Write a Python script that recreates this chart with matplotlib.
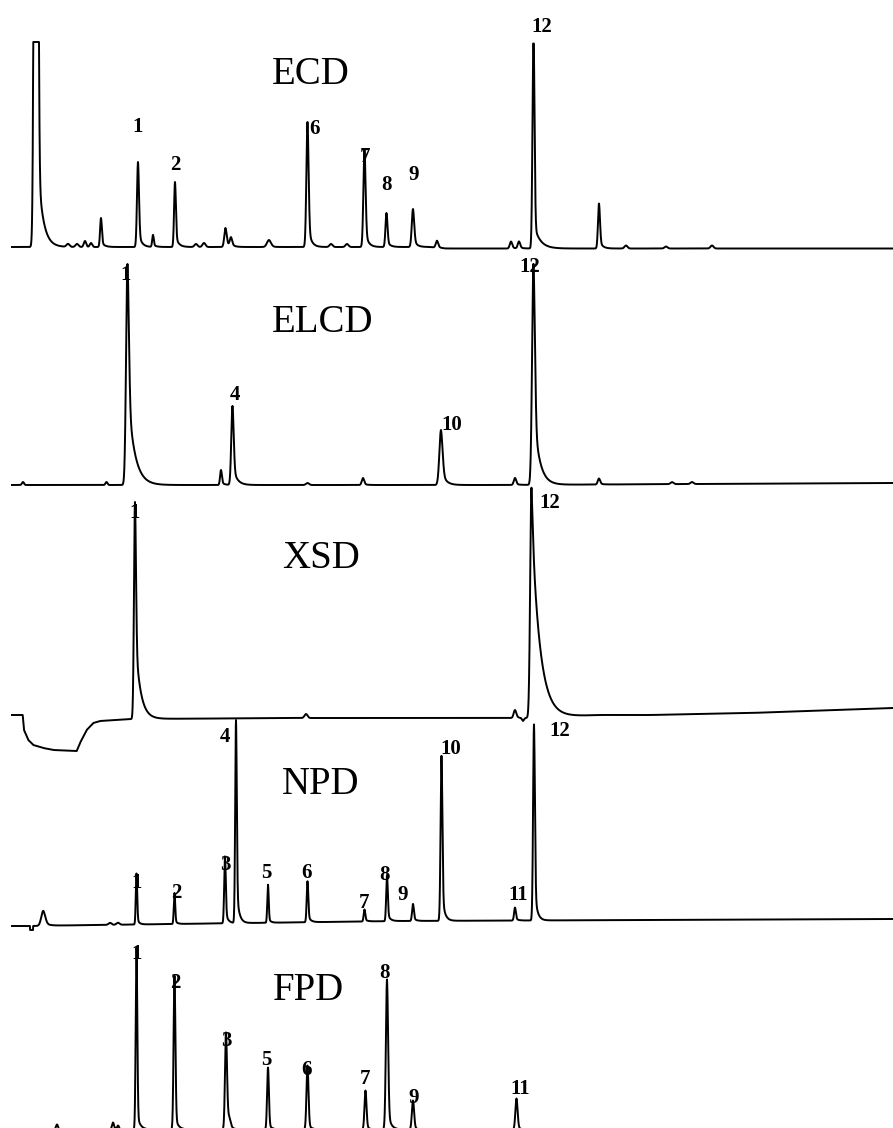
import numpy as np
import matplotlib
matplotlib.use("Agg")
import matplotlib.pyplot as plt

# ---------------------------------------------------------------
# Data: peak tables per detector (retention position, peak height,
# peak sigma, tailing fraction, tailing constant)
# ---------------------------------------------------------------
detectors = ["ECD", "ELCD", "XSD", "NPD", "FPD"]

ecd_rt     = [36, 68, 77, 85, 91, 101, 138, 153, 175, 196, 204, 225.5, 231, 269,
              307.5, 331, 347, 364.5, 386.5, 413, 437, 511, 519, 533.5, 599, 626, 666, 712]
ecd_height = [1500, 3, 3, 6, 4, 29, 85, 12, 65, 3, 4, 19, 9, 7,
              125, 3, 3, 97, 34, 38, 7, 7, 7, 215, 45, 3, 2, 3]
ecd_sigma  = [1.4, 1.5, 1.5, 1.2, 1.2, 0.9, 1.0, 0.8, 0.9, 1.5, 1.5, 1.2, 1.2, 2.0,
              1.1, 1.5, 1.5, 1.1, 1.0, 1.2, 1.2, 1.2, 1.2, 1.0, 1.0, 1.5, 1.5, 1.5]
ecd_tail   = [0.08, 0, 0, 0, 0, 0.2, 0.2, 0.2, 0.2, 0, 0, 0.3, 0.3, 0.2,
              0.2, 0, 0, 0.2, 0.2, 0.25, 0.2, 0.2, 0.2, 0.12, 0.2, 0, 0, 0]
ecd_tau    = [5.0, 2, 2, 2, 2, 3, 3, 3, 3, 2, 2, 3, 3, 3,
              3, 2, 2, 3, 3, 3, 3, 3, 3, 6, 3, 2, 2, 2]
ecd_clip   = 205
ecd_drift_rt = [12, 430, 445, 893]
ecd_drift    = [0, 0, -1.5, -1.5]
ecd_labels     = ["1", "2", "6", "7", "8", "9", "12"]
ecd_label_rt   = [138, 175, 315, 365, 386, 414, 542]
ecd_label_sig  = [122, 84, 120, 92, 64, 74, 222]

elcd_rt     = [23, 106.5, 127.5, 221, 232.5, 307.5, 363, 441, 515, 533.5, 599, 672, 692]
elcd_height = [3, 3, 221, 15, 79, 2, 7, 55, 7, 221, 6, 2, 2]
elcd_sigma  = [1.0, 1.0, 1.4, 0.9, 1.2, 1.5, 1.2, 1.6, 1.2, 1.4, 1.2, 1.5, 1.5]
elcd_tail   = [0, 0, 0.45, 0.2, 0.25, 0, 0.2, 0.3, 0.2, 0.35, 0.2, 0, 0]
elcd_tau    = [2, 2, 6.5, 3, 4, 2, 3, 4, 3, 5.5, 3, 2, 2]
elcd_clip   = 221
elcd_drift_rt = [12, 500, 893]
elcd_drift    = [0, 0, 2]
elcd_labels    = ["1", "4", "10", "12"]
elcd_label_rt  = [126, 235, 452, 530]
elcd_label_sig = [212, 92, 62, 220]

xsd_rt     = [135, 306, 515, 523, 531.5]
xsd_height = [217, 4, 8, -3, 230]
xsd_sigma  = [1.0, 1.5, 1.3, 1.0, 1.3]
xsd_tail   = [0.4, 0, 0.2, 0, 0.9]
xsd_tau    = [5, 2, 3, 2, 8]
xsd_clip   = 400
xsd_drift_rt = [11, 22.7, 24, 28.3, 33.3, 43.3, 53.3, 76.7, 80, 86.7, 93.3, 100, 133,
                300, 525, 600, 650, 750, 893]
xsd_drift    = [3, 3, -12, -22, -27, -30, -32, -33, -25, -12, -5, -3, -1,
                0, 0, 3, 3, 5, 10]
xsd_labels    = ["1", "12"]
xsd_label_rt  = [135, 550]
xsd_label_sig = [208, 217]

npd_rt     = [43.3, 110, 118, 136.5, 174.5, 225, 236, 268, 307.5, 364.5, 387, 413, 441.5, 515, 534]
npd_height = [15, 2, 2, 51, 31, 67, 203, 38, 41, 12, 46, 17, 165, 13, 196]
npd_sigma  = [2.0, 1.5, 1.5, 0.7, 0.7, 0.8, 0.8, 0.7, 0.8, 0.8, 0.8, 0.9, 0.9, 0.9, 0.9]
npd_tail   = [0.3, 0, 0, 0.15, 0.15, 0.2, 0.2, 0.15, 0.2, 0.2, 0.2, 0.2, 0.2, 0.2, 0.2]
npd_tau    = [4, 2, 2, 2, 2, 2.5, 2.5, 2, 2.5, 2.5, 2.5, 2.5, 2.5, 2.5, 2.5]
npd_clip   = 400
npd_drift_rt = [12, 29.9, 30.0, 33.0, 33.1, 60, 400, 893]
npd_drift    = [-5, -5, -9, -9, -5, -4.5, 0, 2]
npd_labels    = ["1", "2", "3", "4", "5", "6", "7", "8", "9", "10", "11", "12"]
npd_label_rt  = [136.5, 176, 225, 225, 266, 306, 364, 385, 403, 451, 518, 560]
npd_label_sig = [40, 30, 58, 186, 50, 50, 20, 49, 29, 175, 29, 193]

fpd_rt     = [57, 113, 118, 136.5, 174.5, 226, 229, 268, 307.5, 365.5, 387, 413, 516.5]
fpd_height = [5, 7, 4, 182, 154, 96, 8, 62, 64, 39, 150, 29, 31]
fpd_sigma  = [1.0, 1.0, 1.0, 0.8, 0.9, 1.0, 1.5, 0.9, 1.0, 1.0, 1.1, 1.1, 1.1]
fpd_tail   = [0, 0, 0, 0.1, 0.1, 0.15, 0, 0.1, 0.1, 0.1, 0.15, 0.1, 0.1]
fpd_tau    = [2, 2, 2, 3, 3, 3, 2, 3, 3, 3, 3, 3, 3]
fpd_clip   = 400
fpd_drift_rt = [12, 893]
fpd_drift    = [0, 0]
fpd_labels    = ["1", "2", "3", "5", "6", "7", "8", "9", "11"]
fpd_label_rt  = [136.5, 175, 226, 266, 306, 365, 385, 414, 520]
fpd_label_sig = [178, 149, 91, 72, 62, 53, 159, 34, 43]

# ---------------------------------------------------------------
# Layout (figure pixels): baseline level and detector-name position
# ---------------------------------------------------------------
W, H = 893, 1128
layout = {
    "ECD":  dict(base=247,    name_xy=(311, 75)),
    "ELCD": dict(base=485,    name_xy=(323, 322)),
    "XSD":  dict(base=718,    name_xy=(321, 559)),
    "NPD":  dict(base=921,    name_xy=(321, 784)),
    "FPD":  dict(base=1129.5, name_xy=(308, 990)),
}

tables = {
    "ECD":  (ecd_rt, ecd_height, ecd_sigma, ecd_tail, ecd_tau, ecd_clip,
             ecd_drift_rt, ecd_drift, ecd_labels, ecd_label_rt, ecd_label_sig),
    "ELCD": (elcd_rt, elcd_height, elcd_sigma, elcd_tail, elcd_tau, elcd_clip,
             elcd_drift_rt, elcd_drift, elcd_labels, elcd_label_rt, elcd_label_sig),
    "XSD":  (xsd_rt, xsd_height, xsd_sigma, xsd_tail, xsd_tau, xsd_clip,
             xsd_drift_rt, xsd_drift, xsd_labels, xsd_label_rt, xsd_label_sig),
    "NPD":  (npd_rt, npd_height, npd_sigma, npd_tail, npd_tau, npd_clip,
             npd_drift_rt, npd_drift, npd_labels, npd_label_rt, npd_label_sig),
    "FPD":  (fpd_rt, fpd_height, fpd_sigma, fpd_tail, fpd_tau, fpd_clip,
             fpd_drift_rt, fpd_drift, fpd_labels, fpd_label_rt, fpd_label_sig),
}


def peak_shape(t, rt, h, s, f, tau):
    d = t - rt
    g = np.exp(-0.5 * (d / s) ** 2)
    right = (1 - f) * g + f * np.exp(-np.clip(d, 0, None) / tau)
    return h * np.where(d < 0, g, right)


def trace(t, rt, hh, ss, ff, tt, clip):
    y = np.zeros_like(t)
    for r, h, s, f, ta in zip(rt, hh, ss, ff, tt):
        y += peak_shape(t, r, h, s, f, ta)
    return np.minimum(y, clip)


plt.rcParams["font.family"] = ["Liberation Serif", "DejaVu Serif"]
fig = plt.figure(figsize=(W / 100, H / 100), dpi=100)
ax = fig.add_axes([0, 0, 1, 1])
ax.set_xlim(0, W)
ax.set_ylim(H, 0)
ax.axis("off")

t = np.arange(12, 893, 0.1)
for det in detectors:
    (rt, hh, ss, ff, tt, clip, drt, dv, labs, lrt, lsig) = tables[det]
    base = layout[det]["base"]
    sig = trace(t, rt, hh, ss, ff, tt, clip) + np.interp(t, drt, dv)
    ax.plot(t, base - sig, color="black", lw=1.4, solid_joinstyle="round")
    for lab, x, s in zip(labs, lrt, lsig):
        ax.text(x, base - s, lab, ha="center", va="center_baseline",
                fontsize=15, fontweight="bold", color="black")
    nx, ny = layout[det]["name_xy"]
    ax.text(nx, ny, det, ha="center", va="center", fontsize=28, color="black")

fig.savefig("out.png", dpi=100)
